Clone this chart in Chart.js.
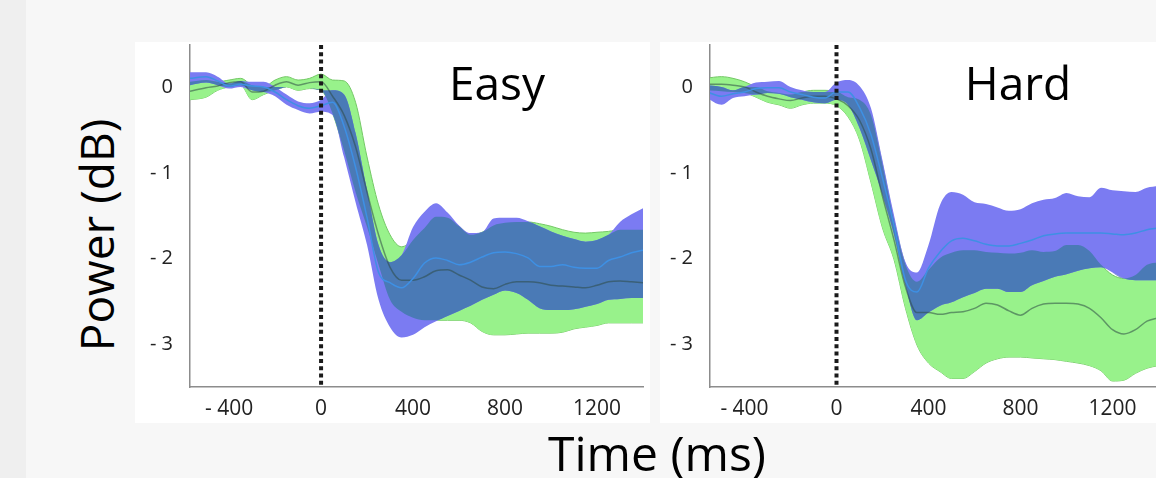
<!DOCTYPE html>
<html>
<head>
<meta charset="utf-8">
<script src="https://cdn.jsdelivr.net/npm/chart.js@4.4.1/dist/chart.umd.min.js"></script>
<style>
  html, body { margin: 0; padding: 0; }
  body { width: 1156px; height: 478px; background: #f7f7f7; position: relative; overflow: hidden; font-family: 'Open Sans', sans-serif; }
  .strip { position: absolute; left: 0; top: 0; width: 26px; height: 478px; background: #efefef; }
  canvas { position: absolute; background: #fff; }
  #easyChart { left: 135px; top: 42px; }
  #hardChart { left: 660px; top: 42px; }
  .lbl { position: absolute; color: #000; line-height: 1; white-space: nowrap; }
  #easyTitle { left: 497px; top: 59px; font-size: 46px; transform: translateX(-50%); }
  #hardTitle { left: 1018px; top: 59px; font-size: 46px; transform: translateX(-50%); }
  #xTitle { left: 657px; top: 429px; font-size: 48px; transform: translateX(-50%); }
  #yTitle { left: 96px; top: 235px; font-size: 46px; transform: translate(-50%, -50%) rotate(-90deg); }
</style>
</head>
<body>
<div class="strip"></div>
<canvas id="easyChart" width="515" height="381"></canvas>
<canvas id="hardChart" width="500" height="381"></canvas>
<div class="lbl" id="easyTitle">Easy</div>
<div class="lbl" id="hardTitle">Hard</div>
<div class="lbl" id="xTitle">Time (ms)</div>
<div class="lbl" id="yTitle">Power (dB)</div>
<script>
// time points (ms) shared by every band
const times = [-570, -500, -450, -400, -350, -300, -250, -200, -150, -100, -50, 0, 50, 100, 150, 200, 250, 300, 350, 400,
  450, 500, 550, 600, 650, 700, 750, 800, 850, 900, 950, 1000, 1050, 1100, 1150, 1200, 1250, 1300, 1350, 1400];

// Easy condition (dB)
const easyGreenUpper = [0.07, 0.09, 0.07, 0.09, 0.11, 0.03, 0.01, 0.09, 0.13, 0.09, 0.11, 0.16, 0.09, 0.08, -0.17, -0.81, -1.37, -1.72, -1.86, -1.78,
  -1.64, -1.51, -1.52, -1.62, -1.72, -1.69, -1.61, -1.58, -1.57, -1.57, -1.59, -1.62, -1.66, -1.69, -1.70, -1.69, -1.68, -1.66, -1.66, -1.66];
const easyGreenLower = [-0.14, -0.11, -0.03, 0.01, 0.03, -0.14, -0.08, -0.03, 0.01, -0.03, -0.01, -0.03, -0.30, -0.73, -1.22, -1.63, -2.07, -2.48, -2.62, -2.69,
  -2.72, -2.72, -2.72, -2.72, -2.75, -2.85, -2.89, -2.89, -2.88, -2.87, -2.87, -2.87, -2.86, -2.82, -2.80, -2.78, -2.75, -2.75, -2.75, -2.75];
const easyGreenMean = [-0.04, 0.00, 0.02, 0.06, 0.07, -0.05, -0.04, 0.03, 0.07, 0.03, 0.06, 0.07, -0.10, -0.32, -0.69, -1.22, -1.72, -2.10, -2.25, -2.25,
  -2.21, -2.14, -2.13, -2.19, -2.25, -2.33, -2.35, -2.30, -2.27, -2.27, -2.28, -2.31, -2.32, -2.33, -2.34, -2.31, -2.27, -2.26, -2.27, -2.28];
const easyBlueUpper = [0.18, 0.18, 0.13, 0.05, 0.08, 0.07, 0.07, 0.01, -0.08, -0.16, -0.18, -0.14, -0.03, -0.08, -0.53, -1.20, -1.84, -2.04, -1.96, -1.63,
  -1.45, -1.35, -1.46, -1.61, -1.70, -1.69, -1.53, -1.52, -1.52, -1.56, -1.62, -1.68, -1.73, -1.77, -1.80, -1.78, -1.72, -1.57, -1.48, -1.41];
const easyBlueLower = [0.03, 0.06, 0.03, -0.01, 0.01, -0.03, -0.05, -0.10, -0.20, -0.26, -0.30, -0.28, -0.32, -0.81, -1.34, -1.84, -2.48, -2.80, -2.92, -2.89,
  -2.80, -2.73, -2.67, -2.61, -2.55, -2.48, -2.42, -2.37, -2.40, -2.48, -2.58, -2.60, -2.60, -2.59, -2.56, -2.53, -2.48, -2.47, -2.46, -2.46];
const easyBlueMean = [0.11, 0.13, 0.08, 0.02, 0.04, 0.02, 0.01, -0.05, -0.14, -0.21, -0.24, -0.21, -0.17, -0.45, -0.93, -1.52, -2.16, -2.28, -2.34, -2.23,
  -2.05, -1.99, -2.02, -2.07, -2.04, -1.98, -1.93, -1.92, -1.94, -1.99, -2.09, -2.09, -2.07, -2.10, -2.11, -2.11, -2.02, -1.98, -1.93, -1.90];

// Hard condition (dB)
const hardGreenUpper = [0.11, 0.13, 0.11, 0.07, 0.01, -0.04, -0.06, -0.08, -0.05, -0.03, -0.03, -0.05, -0.11, -0.14, -0.32, -0.90, -1.55, -2.07, -2.27, -2.13,
  -1.99, -1.93, -1.90, -1.90, -1.92, -1.93, -1.94, -1.93, -1.90, -1.92, -1.91, -1.84, -1.84, -1.91, -2.07, -2.19, -2.23, -2.19, -2.07, -2.04];
const hardGreenLower = [-0.03, -0.04, -0.05, -0.06, -0.11, -0.17, -0.20, -0.24, -0.20, -0.18, -0.18, -0.21, -0.34, -0.61, -1.11, -1.64, -2.01, -2.58, -3.01, -3.22,
  -3.32, -3.40, -3.40, -3.32, -3.22, -3.17, -3.15, -3.15, -3.16, -3.17, -3.18, -3.20, -3.22, -3.25, -3.31, -3.43, -3.42, -3.34, -3.28, -3.25];
const hardGreenMean = [0.04, 0.04, 0.03, 0.01, -0.05, -0.10, -0.13, -0.15, -0.12, -0.10, -0.10, -0.13, -0.21, -0.38, -0.72, -1.27, -1.78, -2.33, -2.63, -2.63,
  -2.65, -2.63, -2.62, -2.58, -2.52, -2.54, -2.61, -2.66, -2.58, -2.53, -2.52, -2.52, -2.53, -2.58, -2.69, -2.83, -2.88, -2.83, -2.73, -2.69];
const hardBlueUpper = [0.03, 0.01, -0.03, 0.01, 0.06, 0.07, 0.08, 0.01, -0.03, -0.05, -0.05, 0.06, 0.09, 0.02, -0.24, -0.85, -1.49, -2.04, -2.16, -1.84,
  -1.37, -1.22, -1.25, -1.34, -1.36, -1.40, -1.44, -1.42, -1.35, -1.31, -1.29, -1.23, -1.27, -1.28, -1.17, -1.20, -1.21, -1.22, -1.17, -1.15];
const hardBlueLower = [-0.11, -0.20, -0.12, -0.10, -0.08, -0.06, -0.07, -0.11, -0.14, -0.17, -0.18, -0.14, -0.20, -0.47, -0.85, -1.25, -1.72, -2.31, -2.72, -2.63,
  -2.55, -2.51, -2.45, -2.40, -2.35, -2.35, -2.39, -2.39, -2.31, -2.26, -2.21, -2.18, -2.14, -2.11, -2.10, -2.16, -2.23, -2.25, -2.25, -2.25];
const hardBlueMean = [-0.04, -0.10, -0.07, -0.05, -0.01, 0.00, 0.00, -0.05, -0.08, -0.11, -0.12, -0.05, -0.05, -0.23, -0.55, -1.06, -1.61, -2.25, -2.39, -2.11,
  -1.92, -1.79, -1.76, -1.79, -1.83, -1.85, -1.85, -1.82, -1.78, -1.73, -1.71, -1.70, -1.70, -1.70, -1.70, -1.71, -1.72, -1.70, -1.66, -1.64];

const xTicks = [-400, 0, 400, 800, 1200];
const yTicks = [0, -1, -2, -3];
const yMin = -3.5, yMax = 0.5;
const onsetTime = 0;

const greenFill = '#98f28b';
const greenEdge = '#74c866';
const blueFill = '#7b7bf2';
const overlapFill = '#4a7ab6';
const blueMeanColor = '#3e90e4';
const greenMeanColor = 'rgba(45, 75, 70, 0.55)';

function pts(vals) {
  return times.map((t, i) => ({ x: t, y: vals[i] }));
}

function tickText(v) {
  return v < 0 ? '- ' + Math.abs(v) : String(v);
}

function band(upper, lower, color, edge, order) {
  const common = { pointRadius: 0, cubicInterpolationMode: 'monotone', order: order,
    borderColor: edge || 'transparent', borderWidth: edge ? 1 : 0 };
  return [
    Object.assign({ data: pts(upper), fill: '+1', backgroundColor: color }, common),
    Object.assign({ data: pts(lower), fill: false }, common)
  ];
}

// keep chart.js from reserving room for label overhang
function noOverhang(s) {
  s.paddingTop = 0; s.paddingBottom = 0; s.paddingLeft = 0; s.paddingRight = 0;
}

function makeChart(id, xMin, yWidth, rightPad, gU, gL, gM, bU, bL, bM) {
  // where both bands cover the same range
  const ovTop = times.map((t, i) => Math.min(gU[i], bU[i]));
  const ovBottom = times.map((t, i) => Math.max(gL[i], bL[i]));
  const ovTopClamped = ovTop.map((v, i) => Math.max(v, ovBottom[i]));

  const datasets = [
    { data: [{ x: onsetTime, y: yMax }, { x: onsetTime, y: yMin }], borderColor: '#1a1a1a', borderWidth: 4,
      borderDash: [4, 3.3], pointRadius: 0, fill: false, order: 0 },
    { data: pts(bM), borderColor: blueMeanColor, borderWidth: 1.5, pointRadius: 0, fill: false,
      cubicInterpolationMode: 'monotone', order: 1 },
    { data: pts(gM), borderColor: greenMeanColor, borderWidth: 1.5, pointRadius: 0, fill: false,
      cubicInterpolationMode: 'monotone', order: 2 }
  ]
    .concat(band(ovTopClamped, ovBottom, overlapFill, null, 3))
    .concat(band(bU, bL, blueFill, null, 5))
    .concat(band(gU, gL, greenFill, greenEdge, 7));

  return new Chart(document.getElementById(id).getContext('2d'), {
    type: 'line',
    data: { datasets: datasets },
    options: {
      responsive: false,
      animation: false,
      events: [],
      layout: { autoPadding: false, padding: { top: 3, right: rightPad, left: 0, bottom: 0 } },
      plugins: { legend: { display: false }, tooltip: { enabled: false } },
      scales: {
        x: {
          type: 'linear', min: xMin, max: 1400,
          grid: { display: false, drawTicks: false },
          border: { display: true, color: '#8c8c8c', width: 1.5 },
          afterBuildTicks: s => { s.ticks = xTicks.map(v => ({ value: v })); },
          afterFit: s => { s.height = 36; noOverhang(s); },
          ticks: { padding: 9, color: '#222', font: { family: 'Open Sans', size: 21 }, maxRotation: 0,
            callback: v => tickText(v) }
        },
        y: {
          min: yMin, max: yMax,
          grid: { display: false, drawTicks: false },
          border: { display: true, color: '#8c8c8c', width: 1.5 },
          afterBuildTicks: s => { s.ticks = yTicks.map(v => ({ value: v })); },
          afterFit: s => { s.width = yWidth; noOverhang(s); },
          ticks: { padding: 17, color: '#222', font: { family: 'Open Sans', size: 20 },
            callback: v => tickText(v) }
        }
      }
    }
  });
}

makeChart('easyChart', -570, 55, 7, easyGreenUpper, easyGreenLower, easyGreenMean, easyBlueUpper, easyBlueLower, easyBlueMean);
makeChart('hardChart', -550, 50, 1.5, hardGreenUpper, hardGreenLower, hardGreenMean, hardBlueUpper, hardBlueLower, hardBlueMean);
</script>
</body>
</html>
